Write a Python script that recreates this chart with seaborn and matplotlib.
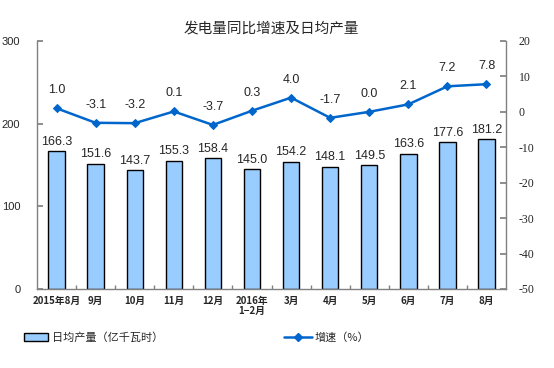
import matplotlib
matplotlib.use("Agg")
import matplotlib.pyplot as plt
import seaborn as sns
import pandas as pd
from matplotlib.lines import Line2D
from matplotlib.patches import Patch

# 月份标签
months = ['2015年8月', '9月', '10月', '11月', '12月', '2016年\n1−2月',
          '3月', '4月', '5月', '6月', '7月', '8月']
# 日均产量（亿千瓦时）
daily_output = [166.3, 151.6, 143.7, 155.3, 158.4, 145.0,
                154.2, 148.1, 149.5, 163.6, 177.6, 181.2]
# 同比增速（%）
growth = [1.0, -3.1, -3.2, 0.1, -3.7, 0.3,
          4.0, -1.7, 0.0, 2.1, 7.2, 7.8]

df = pd.DataFrame({'月份': months, '日均产量': daily_output, '增速': growth})
df['pos'] = range(len(df))

sns.set_theme(style="white")
plt.rcParams['font.family'] = ['Noto Sans CJK SC', 'DejaVu Sans']
plt.rcParams['axes.unicode_minus'] = False

bar_color = '#99CCFF'
line_color = '#0066CC'
spine_color = '#808080'

fig = plt.figure(figsize=(5.54, 3.68), dpi=100)
ax = fig.add_axes([0.0668, 0.2147, 0.8466, 0.674])

sns.barplot(data=df, x='月份', y='日均产量', color=bar_color, edgecolor='black',
            linewidth=1.0, width=0.42, saturation=1, ax=ax)
ax.set_ylim(0, 300)
ax.set_xlim(-0.5, len(months) - 0.5)
ax.set_yticks([0, 100, 200, 300])
ax.set_xlabel('')
ax.set_ylabel('')
ax.tick_params(axis='y', direction='in', length=4, labelsize=8, color=spine_color, pad=12)
for lbl in ax.get_yticklabels():
    lbl.set_family('Liberation Sans')
ax.set_xticks(range(len(months)))
ax.set_xticklabels(months, fontsize=7, fontweight='bold', linespacing=1.0)
ax.tick_params(axis='x', length=0, pad=5)
# 分隔刻度
ax.set_xticks([i + 0.5 for i in range(len(months) - 1)], minor=True)
ax.tick_params(axis='x', which='minor', direction='in', length=3, color=spine_color, bottom=True)
for s in ['top', 'right']:
    ax.spines[s].set_visible(False)
for s in ['left', 'bottom']:
    ax.spines[s].set_color(spine_color)
    ax.spines[s].set_linewidth(1.0)

for i, v in enumerate(daily_output):
    ax.text(i, v + 4, f'{v:.1f}', ha='center', va='bottom', fontsize=9,
            family='Liberation Sans')

ax2 = ax.twinx()
sns.lineplot(data=df, x='pos', y='增速', color=line_color, marker='D', markersize=4.5,
             markeredgecolor=line_color, linewidth=1.8, ax=ax2)
ax2.set_ylim(-50, 20)
ax2.set_yticks(range(-50, 21, 10))
ax2.set_ylabel('')
ax2.set_xlabel('')
ax2.tick_params(axis='y', direction='in', length=4, labelsize=8.5, color=spine_color, pad=9)
for lbl in ax2.get_yticklabels():
    lbl.set_family('Liberation Serif')
for s in ['top', 'left', 'bottom']:
    ax2.spines[s].set_visible(False)
ax2.spines['right'].set_color(spine_color)
ax2.spines['right'].set_linewidth(1.0)
ax2.set_xlim(-0.5, len(months) - 0.5)

for i, v in enumerate(growth):
    ax2.text(i, v + 3.4, f'{v:.1f}', ha='center', va='bottom', fontsize=9,
             family='Liberation Sans')

fig.text(0.49, 0.923, '发电量同比增速及日均产量', ha='center', va='center', fontsize=10.5)

handles = [Patch(facecolor=bar_color, edgecolor='black', linewidth=1.0),
           Line2D([0], [0], color=line_color, marker='D', markersize=4, linewidth=1.8)]
leg1 = fig.legend([handles[0]], ['日均产量（亿千瓦时）'], loc='center left',
                  bbox_to_anchor=(0.025, 0.083), frameon=False, fontsize=8,
                  handlelength=2.2, handleheight=0.7, handletextpad=0.3)
leg2 = fig.legend([handles[1]], ['增速（%）'], loc='center left',
                  bbox_to_anchor=(0.495, 0.083), frameon=False, fontsize=8,
                  handlelength=2.5, handletextpad=0.2)

fig.savefig('out.png', dpi=100)
